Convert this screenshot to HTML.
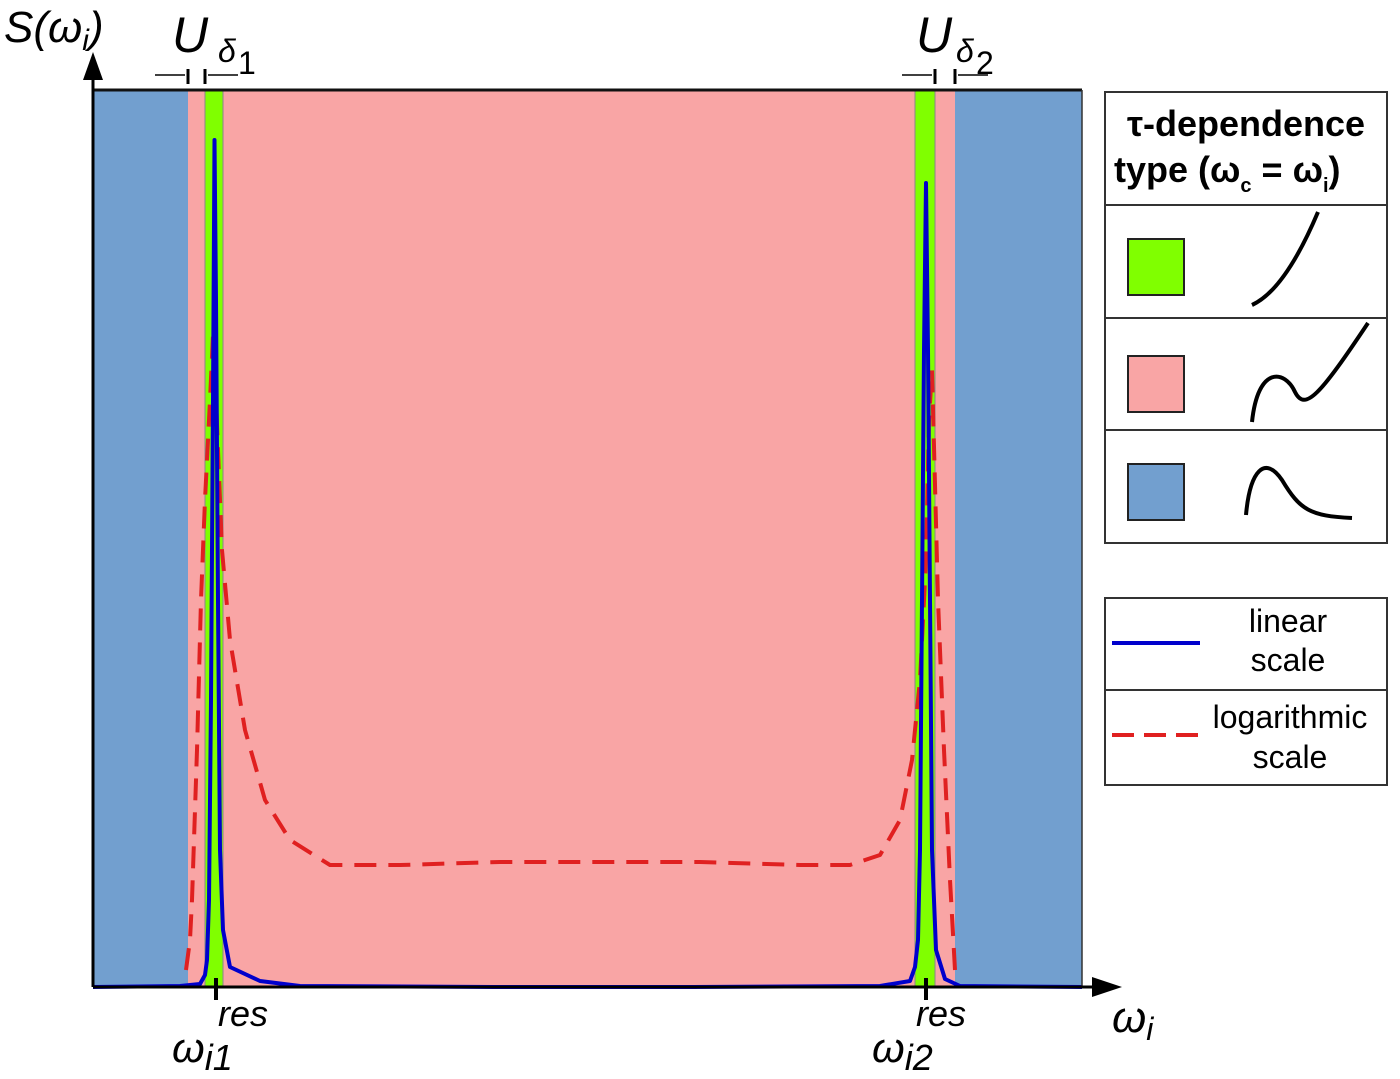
<!DOCTYPE html>
<html><head><meta charset="utf-8"><style>
body{margin:0;background:#fff;width:1400px;height:1079px;overflow:hidden}
svg{display:block;font-family:"Liberation Sans",sans-serif}
</style></head><body>
<svg id="chart" width="1400" height="1079" viewBox="0 0 1400 1079">
<g id="regions">
<rect x="93" y="90" width="989" height="897" fill="#f9a5a5"/>
<rect x="93" y="90" width="95" height="897" fill="#729fcf"/>
<rect x="955" y="90" width="127" height="897" fill="#729fcf"/>
<rect x="205" y="90" width="18" height="897" fill="#80ff00" stroke="#888" stroke-width="1"/>
<rect x="915" y="90" width="20" height="897" fill="#80ff00" stroke="#888" stroke-width="1"/>
</g>
<g id="series"></g>
<line x1="93" y1="90" x2="1082" y2="90" stroke="#111" stroke-width="3"/>
<line x1="1082" y1="90" x2="1082" y2="987" stroke="#333" stroke-width="1.5"/>
<g>
<line x1="93" y1="987" x2="93" y2="75" stroke="#000" stroke-width="3"/>
<polygon points="93,52 83,80 103,80" fill="#000"/>
</g>
<g>
<line x1="93" y1="987" x2="1095" y2="987" stroke="#000" stroke-width="3"/>
<polygon points="1122,987 1092,977 1092,997" fill="#000"/>
<line x1="216" y1="978" x2="216" y2="1000" stroke="#000" stroke-width="4"/>
<line x1="926" y1="978" x2="926" y2="1000" stroke="#000" stroke-width="4"/>
</g>
<text x="4" y="42" font-size="44" font-style="italic">S(ω<tspan font-size="30" dy="8">i</tspan><tspan dy="-8">)</tspan></text>
<text x="1112" y="1032" font-size="44" font-style="italic">ω<tspan font-size="32" dy="8">i</tspan></text>
<text x="172" y="1062" font-size="42" font-style="italic">ω<tspan font-size="36" dy="8">i1</tspan></text>
<text x="218" y="1026" font-size="36" font-style="italic">res</text>
<text x="872" y="1062" font-size="42" font-style="italic">ω<tspan font-size="36" dy="8">i2</tspan></text>
<text x="916" y="1026" font-size="36" font-style="italic">res</text>
<g>
<text x="172" y="52" font-size="50" font-style="italic">U</text>
<text x="218" y="62" font-size="32" font-style="italic">δ</text><text x="238" y="74" font-size="32">1</text>
<line x1="155" y1="75" x2="185" y2="75" stroke="#000" stroke-width="1.5"/><line x1="188" y1="69" x2="188" y2="84" stroke="#000" stroke-width="3"/>
<line x1="205" y1="69" x2="205" y2="84" stroke="#000" stroke-width="3"/><line x1="208" y1="75" x2="238" y2="75" stroke="#000" stroke-width="1.5"/>
</g>
<g>
<text x="916" y="52" font-size="50" font-style="italic">U</text>
<text x="956" y="62" font-size="32" font-style="italic">δ</text><text x="976" y="74" font-size="32">2</text>
<line x1="902" y1="75" x2="932" y2="75" stroke="#000" stroke-width="1.5"/><line x1="935" y1="69" x2="935" y2="84" stroke="#000" stroke-width="3"/>
<line x1="955" y1="69" x2="955" y2="84" stroke="#000" stroke-width="3"/><line x1="958" y1="75" x2="988" y2="75" stroke="#000" stroke-width="1.5"/>
</g>
<g stroke="#333" stroke-width="2" fill="none">
<rect x="1105" y="92" width="282" height="451" fill="#fff"/>
<line x1="1105" y1="205" x2="1387" y2="205"/><line x1="1105" y1="318" x2="1387" y2="318"/><line x1="1105" y1="430" x2="1387" y2="430"/>
</g>
<text x="1246" y="136" font-size="36" font-weight="bold" text-anchor="middle">τ-dependence</text>
<text x="1114" y="182" font-size="36" font-weight="bold">type (ω<tspan font-size="20" dy="10">c</tspan><tspan dy="-10"> = ω</tspan><tspan font-size="20" dy="10">i</tspan><tspan dy="-10">)</tspan></text>
<rect x="1128" y="239" width="56" height="56" fill="#80ff00" stroke="#222" stroke-width="2"/>
<rect x="1128" y="356" width="56" height="56" fill="#f9a5a5" stroke="#222" stroke-width="2"/>
<rect x="1128" y="464" width="56" height="56" fill="#729fcf" stroke="#222" stroke-width="2"/>
<path d="M1252,305 Q1285,290 1318,212" stroke="#000" stroke-width="4" fill="none"/>
<path d="M1252,422 C1258,365 1285,370 1295,392 C1305,412 1320,395 1368,323" stroke="#000" stroke-width="4" fill="none"/>
<path d="M1246,515 C1250,470 1265,455 1282,480 C1300,510 1310,516 1352,518" stroke="#000" stroke-width="4" fill="none"/>
<g stroke="#333" stroke-width="2" fill="none">
<rect x="1105" y="598" width="282" height="187" fill="#fff"/>
<line x1="1105" y1="690" x2="1387" y2="690"/>
</g>
<line x1="1112" y1="643" x2="1200" y2="643" stroke="#0000cc" stroke-width="4"/>
<text x="1288" y="632" font-size="32" text-anchor="middle">linear</text>
<text x="1288" y="671" font-size="32" text-anchor="middle">scale</text>
<line x1="1112" y1="735" x2="1200" y2="735" stroke="#e02020" stroke-width="4" stroke-dasharray="22,10"/>
<text x="1290" y="728" font-size="32" text-anchor="middle">logarithmic</text>
<text x="1290" y="768" font-size="32" text-anchor="middle">scale</text>
</svg>
<script>
// frequency (0..989) and amplitude (0..897) samples
const linearFreq = [0,87,107,112,114,116,118,120,121.5,123,125,127,130,137,167,207,400,600,787,817,822,825,827,829,831,833,835,837,839,843,852,867,989];
const linearAmp  = [0,1,3,12,27,87,287,587,847,687,387,137,57,20,6,1,0,0,1,6,20,47,137,387,637,804,637,387,137,37,8,1,0];
const logFreq = [93,97,99,104,108,112,117,120,123,129,137,152,172,197,237,307,407,507,607,707,757,787,807,819,827,833,836,839,845,851,857,862];
const logAmp  = [17,47,87,237,387,487,587,652,587,437,347,257,187,147,122,122,125,125,125,122,122,132,167,227,307,427,567,617,387,237,107,17];
const X0=93, Y0=987;
function xScale(v){return X0+v;}
function yScale(v){return Y0-v;}
const g=document.getElementById('series');
function mk(fx,fy,color,dash,name){
  const p=document.createElementNS('http://www.w3.org/2000/svg','polyline');
  p.setAttribute('points',fx.map((v,i)=>xScale(v)+','+yScale(fy[i])).join(' '));
  p.setAttribute('fill','none');p.setAttribute('stroke',color);p.setAttribute('stroke-width','4');
  p.setAttribute('stroke-linejoin','round');
  if(dash)p.setAttribute('stroke-dasharray',dash);
  
  
  g.appendChild(p);
}
mk(logFreq,logAmp,'#e02020','22,12','log-scale-line');
mk(linearFreq,linearAmp,'#0000cc',null,'linear-scale-line');
</script>
</body></html>
